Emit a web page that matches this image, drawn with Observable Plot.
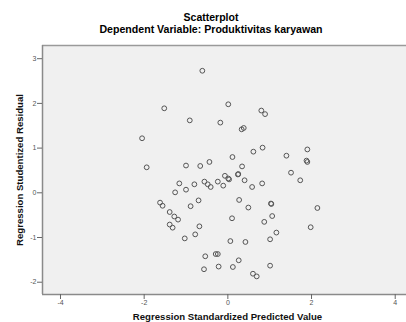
<!DOCTYPE html>
<html>
<head>
<meta charset="utf-8">
<script src="https://cdn.jsdelivr.net/npm/d3@7"></script>
<script src="https://cdn.jsdelivr.net/npm/@observablehq/plot@0.6"></script>
<style>
  html, body { margin: 0; padding: 0; background: #ffffff; overflow: hidden; }
  #wrap { width: 406px; height: 322px; font-family: "Liberation Sans", Arial, sans-serif; }
  #titles { height: 36px; box-sizing: border-box; padding-top: 10.5px; padding-left: 16px; text-align: center; color: #000; }
  .t1 { font-size: 10.5px; font-weight: bold; line-height: 12px; }
  .t2 { font-size: 10.6px; font-weight: bold; line-height: 12px; }
  #chart svg { display: block; }
</style>
</head>
<body>
<div id="wrap">
  <div id="titles">
    <div class="t1">Scatterplot</div>
    <div class="t2">Dependent Variable: Produktivitas karyawan</div>
  </div>
  <div id="chart"></div>
</div>
<script>
const predicted = [
  -0.61, -1.52, 0.01, 0.80, 0.89, -0.91, -0.18, 0.33, 0.38, -2.05,
  0.83, 0.61, 0.11, -1.94, -1.00, -0.66, -0.44, 0.34, -0.07, 0.01,
  0.03, 0.24, 0.25, 0.40, 1.40, 1.90, 1.88, 1.90, 1.51, 1.73,
  -0.11, 0.58, 0.82, 0.27, 0.49, 1.03, 1.04, 2.14, -1.16, -0.80,
  -0.56, -0.48, -0.41, -0.24, -1.26, -1.00, -1.62, -1.56, -0.89, -0.70,
  -1.39, -1.28, -1.19, -1.39, -1.32, -1.03, -0.78, -0.68, 0.10, 0.06,
  0.42, -0.54, -0.29, -0.24, -0.57, -0.22, 0.12, 0.26, 0.60, 0.69,
  0.87, 1.06, 1.16, 1.01, 1.98, 1.01
];
const residual = [
  2.73, 1.89, 1.98, 1.84, 1.76, 1.62, 1.57, 1.42, 1.45, 1.22,
  1.01, 0.92, 0.80, 0.57, 0.61, 0.60, 0.69, 0.59, 0.38, 0.32,
  0.30, 0.41, 0.42, 0.28, 0.83, 0.97, 0.72, 0.69, 0.45, 0.28,
  0.16, 0.13, 0.21, -0.16, -0.33, -0.24, -0.25, -0.34, 0.21, 0.19,
  0.25, 0.19, 0.13, 0.25, 0.01, 0.07, -0.22, -0.29, -0.30, -0.17,
  -0.43, -0.53, -0.60, -0.71, -0.78, -1.02, -0.93, -0.75, -0.57, -1.08,
  -1.10, -1.42, -1.37, -1.37, -1.71, -1.65, -1.66, -1.51, -1.81, -1.87,
  -0.65, -0.52, -0.89, -1.04, -0.77, -1.63
];
const xTicks = [-4, -2, 0, 2, 4];
const yTicks = [-2, -1, 0, 1, 2, 3];
const xDomain = [-4.43, 4.27];
const yDomain = [-2.275, 3.295];
const xLabel = "Regression Standardized Predicted Value";
const yLabel = "Regression Studentized Residual";

const data = predicted.map((x, i) => ({x, y: residual[i]}));
const font = "Liberation Sans, Arial, sans-serif";

const chart = Plot.plot({
  width: 406,
  height: 286,
  marginTop: 9,
  marginBottom: 28,
  marginLeft: 42,
  marginRight: 0,
  style: {fontFamily: font, background: "#ffffff", overflow: "visible"},
  x: {domain: xDomain},
  y: {domain: yDomain},
  marks: [
    Plot.frame({fill: "#f0f0f0", stroke: null}),
    Plot.ruleY([yDomain[1]], {stroke: "#9a9a9a", strokeWidth: 1.5}),
    Plot.ruleY([yDomain[0]], {stroke: "#8a8a8a", strokeWidth: 1.5}),
    Plot.ruleX([xDomain[0]], {stroke: "#8a8a8a", strokeWidth: 1.5}),
    Plot.axisX({ticks: xTicks, tickSize: 5, tickPadding: 1, tickFormat: d => String(d), fontSize: 7, color: "#555", stroke: "#666", label: null}),
    Plot.axisY({ticks: yTicks, tickSize: 5, tickPadding: 1, tickFormat: d => String(d), fontSize: 7, color: "#555", stroke: "#666", label: null}),
    Plot.dot(data, {x: "x", y: "y", r: 2.4, stroke: "#555", strokeWidth: 1, fill: "none"}),
    Plot.text([xLabel], {frameAnchor: "bottom", dx: 3, dy: 22.5, lineAnchor: "middle", textAnchor: "middle", text: d => d, fontSize: 9.6, fontWeight: "bold", fill: "#111"}),
    Plot.text([yLabel], {frameAnchor: "left", dx: -23, rotate: -90, lineAnchor: "middle", textAnchor: "middle", text: d => d, fontSize: 9.6, fontWeight: "bold", fill: "#111"})
  ]
});
document.getElementById("chart").appendChild(chart);
</script>
</body>
</html>
